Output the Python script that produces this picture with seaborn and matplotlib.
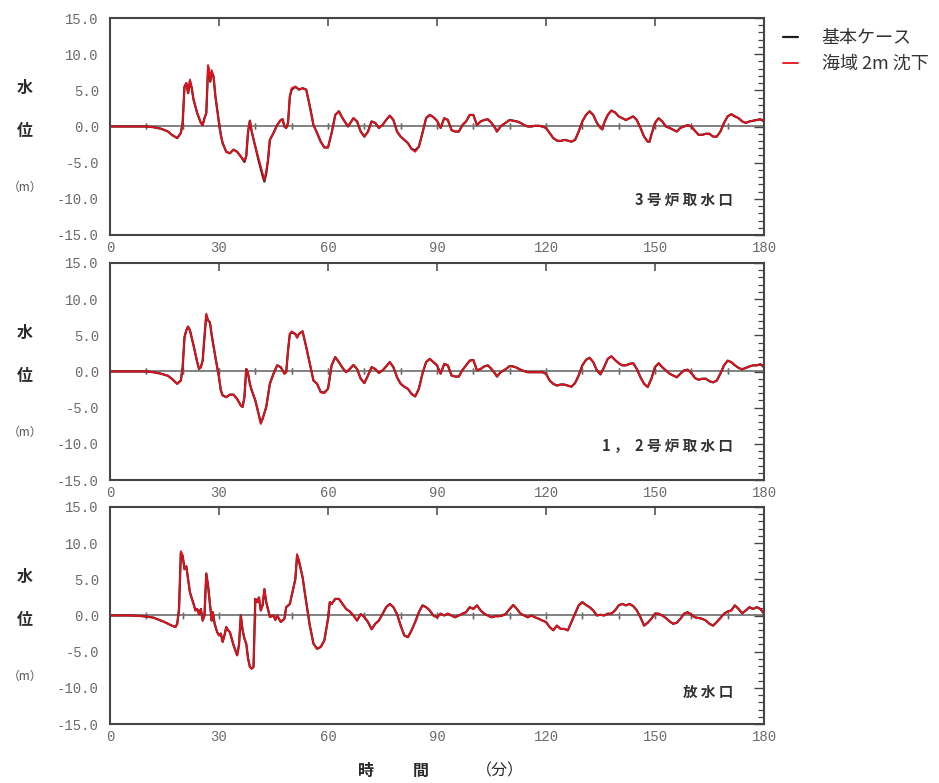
import matplotlib
matplotlib.use("Agg")
import matplotlib.pyplot as plt
from matplotlib.ticker import FixedLocator, MultipleLocator, NullFormatter
import pandas as pd
import seaborn as sns

# ---------------- data ----------------
series_labels = ["基本ケース", "海域 2m 沈下"]
panel_titles = ["3 号 炉 取 水 口", "1 ，  2 号 炉 取 水 口", "放 水 口"]
xtick_values = [0, 30, 60, 90, 120, 150, 180]
xtick_labels = ["0", "30", "60", "90", "120", "150", "180"]
ytick_values = [15, 10, 5, 0, -5, -10, -15]
ytick_labels = ["15.0", "10.0", "5.0", "0.0", "-5.0", "-10.0", "-15.0"]
zero_line_ticks = [10, 20, 30, 40, 50, 60, 70, 80, 90, 100, 110, 120,
                   130, 140, 150, 160, 170]

# Panel 1 : 3号炉取水口
t1 = ([0, 5, 10, 12, 14, 16, 17, 18.5, 19.5, 20,
       20.5, 21, 21.5, 22, 22.5, 23, 24, 25, 25.5, 26,
       26.5, 27, 27.3, 27.6, 28, 28.5, 29, 30, 30.5, 31,
       32, 33, 34, 35, 36, 37, 37.5, 38, 38.5, 39,
       40, 41, 42, 42.5, 43, 43.5, 44, 45, 46, 47,
       47.5, 48, 48.5, 49, 49.5, 50, 51, 52, 53, 54,
       55, 56, 57, 58, 59, 60, 61, 62, 63, 64,
       65.5] + list(range(67, 107)) + [106.5, 107.5] + list(range(108, 136))
      + [135.5] + list(range(136, 149)) + [148.5] + list(range(149, 181)))
p1_sub = [0, 0, 0, -0.1, -0.3, -0.7, -1.15, -1.6, -0.9, 0.5,
          5.5, 6.0, 4.6, 6.5, 5.3, 3.7, 1.85, 0.5, 0.2, 1.15,
          1.85, 8.5, 7.6, 6.2, 7.8, 6.9, 4.2, 0.5, -1.15, -2.3,
          -3.5, -3.7, -3.2, -3.5, -4.15, -4.75, -4.1, -0.7, 0.8, -0.7,
          -2.8, -4.6, -6.5, -7.4, -6.2, -4.6, -1.85, -0.9, 0.2, 0.9,
          1.0, 0.0, -0.2, 0.5, 4.15, 5.3, 5.5, 5.1, 5.3, 5.1,
          2.8, 0.2, -0.9, -2.1, -2.9, -2.9, -0.9, 1.6, 2.1, 1.15,
          0.0, 1.15, 0.7, -0.7, -1.4, -0.7, 0.7, 0.5, -0.2, 0.2,
          0.9, 1.5, 0.9, -0.7, -1.4, -1.85, -2.3, -3.1, -3.5, -2.8,
          -0.9, 1.15, 1.6, 1.3, 0.8, -0.2, 1.15, 0.9, -0.5, -0.7,
          -0.7, 0.2, 0.7, 1.6, 1.6, 0.2, 0.7, 0.9, 1.0, 0.5,
          -0.2, -0.7, 0.0, 0.2, 0.55, 0.9, 0.8, 0.7, 0.5, 0.2,
          0.0, 0.0, 0.1, 0.1, 0.0, -0.2, -0.9, -1.6, -1.95, -2.0,
          -1.85, -1.95, -2.1, -1.85, -0.7, 0.7, 1.6, 2.1, 1.6, 0.5,
          -0.2, -0.4, 0.5, 1.6, 2.2, 1.95, 1.4, 1.15, 0.9, 1.15,
          1.4, 0.9, -0.2, -1.4, -2.1, -2.1, -1.15, 0.5, 1.15, 0.7,
          0.0, -0.2, -0.45, -0.7, -0.2, 0.0, 0.2, 0.0, -0.6, -1.15,
          -1.15, -1.0, -1.0, -1.4, -1.4, -0.7, 0.5, 1.4, 1.7, 1.4,
          1.15, 0.7, 0.5, 0.7, 0.8, 0.9, 1.0, 0.7]
# base case: coincides with the subsidence case except at these read points
p1_base_diff = {22: 6.3, 27: 8.2, 28: 7.5, 37: -4.9, 41: -4.9, 42: -6.8,
                42.5: -7.6, 43: -6.5, 50: 5.1, 84: -3.3}

# Panel 2 : 1,2号炉取水口
t2 = ([0, 5, 10, 12, 14, 16, 17, 18.5, 19.5, 20,
       20.5, 21, 21.5, 22, 23, 24, 24.5, 25, 25.5, 26,
       26.5, 27, 27.5, 28, 29, 30, 30.5, 31, 32, 33,
       34, 35, 36, 36.5, 37, 37.5, 38, 38.5, 39, 40,
       41, 41.5, 42, 43, 44, 45, 46, 47, 48, 48.5,
       49, 49.5, 50, 51, 51.5, 52, 53, 54, 55, 56]
      + list(range(57, 107)) + [106.5, 107.5] + list(range(109, 181)))
p2_sub = [0, 0, 0, -0.1, -0.3, -0.6, -1.0, -1.7, -1.25, 0.6,
          4.75, 5.7, 6.2, 5.7, 3.6, 1.3, 0.35, 0.6, 1.5, 4.75,
          8.0, 7.05, 6.8, 5.0, 2.0, -0.8, -2.6, -3.3, -3.55, -3.2,
          -3.2, -3.8, -4.7, -4.9, -3.55, 0.35, -0.3, -1.7, -2.6, -4.0,
          -6.1, -7.25, -6.55, -4.9, -1.7, -0.3, 0.85, 0.6, -0.3, -0.1,
          2.9, 5.2, 5.55, 5.2, 4.7, 5.2, 5.55, 3.4, 1.05, -1.25,
          -1.7, -2.85, -3.0, -2.4, 0.85, 2.0, 1.3, 0.5, -0.1, 0.35,
          0.9, 0.35, -1.0, -1.6, -0.55, 0.6, 0.35, -0.2, 0.15, 0.7,
          1.3, 0.6, -0.8, -1.7, -2.1, -2.4, -3.1, -3.45, -2.4, -0.3,
          1.3, 1.75, 1.3, 0.85, -0.3, 1.05, 0.85, -0.55, -0.7, -0.7,
          0.2, 0.85, 1.5, 1.6, 0.15, 0.35, 0.7, 0.85, 0.35, -0.3,
          -0.7, -0.1, 0.35, 0.75, 0.7, 0.5, 0.25, 0.05, -0.1, -0.1,
          -0.1, -0.1, -0.1, -0.3, -1.25, -1.7, -1.95, -1.8, -1.8, -1.95,
          -2.1, -1.6, -0.55, 0.85, 1.6, 1.9, 1.3, 0.15, -0.4, 0.6,
          1.75, 2.1, 1.6, 1.15, 0.85, 0.85, 1.05, 1.15, 0.35, -0.8,
          -1.7, -2.15, -1.0, 0.6, 1.15, 0.6, 0.15, -0.3, -0.55, -0.8,
          -0.3, 0.15, 0.25, -0.2, -0.9, -1.15, -1.0, -1.0, -1.35, -1.5,
          -1.25, -0.3, 0.85, 1.5, 1.3, 0.85, 0.5, 0.3, 0.5, 0.7,
          0.85, 0.85, 1.0, 0.6]
p2_base_diff = {26.5: 7.8, 41.5: -7.1, 50: 5.4, 59: -2.9}

# Panel 3 : 放水口
t3 = ([0, 5, 8, 10, 12, 15, 17, 18, 18.5, 19,
       19.5, 20, 20.5, 21, 21.5, 22, 23, 23.5, 24, 24.5,
       25, 25.5, 26, 26.5, 27, 27.5, 28, 28.3, 28.8, 29.5,
       30, 30.5, 31, 31.5, 32, 32.5, 33, 34, 35, 35.5,
       36, 36.5, 37, 37.5, 38, 38.5, 39, 39.5, 40, 40.5,
       41, 41.5, 42, 42.5, 43, 44, 45, 45.5, 46, 47,
       48, 48.5, 49.5, 50, 51, 51.5, 52, 53, 54, 55,
       56, 57, 58, 59, 60, 60.5, 61, 62, 63, 64]
      + list(range(65, 181)))
p3_sub = [0, 0, -0.05, -0.15, -0.3, -0.9, -1.4, -1.6, -1.15, 0.9,
          8.9, 8.25, 6.4, 6.8, 5.0, 3.2, 1.6, 0.7, 0.9, 0.2,
          0.9, -0.7, 0.0, 5.8, 4.1, 1.6, -0.7, 0.45, -1.15, -2.3,
          -2.75, -2.5, -3.65, -2.75, -1.6, -2.05, -2.3, -4.1, -5.5, -4.1,
          0.0, -2.05, -3.2, -3.9, -5.95, -7.1, -7.35, -7.1, 2.3, 1.85,
          2.5, 0.7, 1.4, 3.65, 1.85, -0.2, 0.0, -0.6, 0.0, -0.9,
          -0.45, 1.15, 1.6, 2.75, 5.0, 8.5, 7.55, 5.3, 1.85, -1.4,
          -3.9, -4.6, -4.35, -3.45, -0.45, 1.85, 1.6, 2.3, 2.3, 1.6,
          0.9, 0.55, 0.0, -0.7, 0.2, -0.2, -0.9, -1.9, -1.15, -0.7,
          0.2, 1.15, 1.6, 1.15, 0.2, -1.4, -2.75, -3.0, -2.05, -0.9,
          0.45, 1.4, 1.15, 0.7, 0.0, -0.25, 0.25, 0.0, 0.25, 0.0,
          -0.25, 0.0, 0.25, 0.45, 1.15, 0.9, 1.4, 0.7, 0.25, 0.0,
          -0.25, -0.1, -0.1, 0.0, 0.25, 0.9, 1.45, 0.9, 0.25, 0.0,
          -0.25, 0.0, -0.25, -0.45, -0.7, -0.9, -1.6, -2.05, -1.4, -1.85,
          -1.85, -2.05, -0.9, 0.25, 1.4, 1.85, 1.45, 1.15, 0.7, 0.0,
          0.1, 0.0, 0.25, 0.25, 0.7, 1.4, 1.6, 1.4, 1.6, 1.3,
          0.7, -0.25, -1.4, -1.0, -0.45, 0.25, 0.25, 0.0, -0.35, -0.8,
          -1.15, -1.0, -0.45, 0.25, 0.45, 0.1, -0.25, -0.35, -0.45, -0.7,
          -1.15, -1.4, -0.9, -0.35, 0.25, 0.55, 0.7, 1.4, 0.9, 0.3,
          0.7, 1.15, 0.9, 1.15, 0.9, 0.25]
p3_base_diff = {19.5: 8.7, 51.5: 8.3}


def with_diff(times, values, diff):
    return [diff.get(t, v) for t, v in zip(times, values)]


panels = [
    (t1, with_diff(t1, p1_sub, p1_base_diff), p1_sub),
    (t2, with_diff(t2, p2_sub, p2_base_diff), p2_sub),
    (t3, with_diff(t3, p3_sub, p3_base_diff), p3_sub),
]

# ---------------- styling ----------------
sns.set_theme(style="white")
plt.rcParams['font.family'] = ['Noto Sans CJK JP', 'DejaVu Sans']

W, H = 939, 783
fig = plt.figure(figsize=(W / 100, H / 100), dpi=100)
fig.patch.set_facecolor("white")

AX_L, AX_W, AX_H = 110, 654, 217
tops = [18, 263, 507]
title_y = [0.161, 0.161, 0.147]

BLACK = "#1e1e1e"
RED = "#e3111b"
SPINE = "#454545"
LABEL = "#6a6a6a"

legend_handles = None
for i, ((t, base, sub), top) in enumerate(zip(panels, tops)):
    ax = fig.add_axes([AX_L / W, 1 - (top + AX_H) / H, AX_W / W, AX_H / H])
    ax.set_facecolor("white")

    # zero line as a secondary axis with 10-minute ticks
    sec = ax.secondary_xaxis(0.5)
    sec.set_xticks(zero_line_ticks)
    sec.tick_params(axis="x", which="both", direction="inout", length=5,
                    width=1.0, color="#666666", labeltop=False, labelbottom=False,
                    top=True, bottom=True)
    for s in sec.spines.values():
        s.set_color("#777777")
        s.set_linewidth(1.3)

    df = pd.DataFrame({"time": t, "base": base, "sub": sub})
    sns.lineplot(data=df, x="time", y="base", ax=ax, color=BLACK, lw=1.6,
                 estimator=None, sort=False, label=series_labels[0], legend=False)
    sns.lineplot(data=df, x="time", y="sub", ax=ax, color=RED, lw=1.3,
                 estimator=None, sort=False, label=series_labels[1], legend=False)
    if ax.get_legend() is not None:
        ax.get_legend().remove()
    if i == 0:
        legend_handles = ax.get_lines()[-2:]

    ax.set_xlim(0, 180)
    ax.set_ylim(-15, 15)
    ax.set_xlabel("")
    ax.set_ylabel("")

    ax.xaxis.set_major_locator(FixedLocator(xtick_values))
    ax.set_xticklabels(xtick_labels, fontfamily="Liberation Mono", fontsize=10,
                       color=LABEL)
    ax.yaxis.set_major_locator(FixedLocator(ytick_values))
    ax.set_yticklabels(ytick_labels, fontfamily="Liberation Mono", fontsize=10,
                       color=LABEL)
    ax.yaxis.set_minor_locator(MultipleLocator(1))
    ax.yaxis.set_minor_formatter(NullFormatter())

    ax.tick_params(axis="both", which="both", direction="in", top=True,
                   right=True, color=SPINE)
    ax.tick_params(axis="x", which="major", length=6, width=1.1, pad=4)
    ax.tick_params(axis="x", which="minor", top=False, bottom=False)
    ax.tick_params(axis="y", which="major", length=7, width=1.0, pad=8)
    ax.tick_params(axis="y", which="minor", length=4.5, width=0.9)
    for s in ax.spines.values():
        s.set_color(SPINE)
        s.set_linewidth(1.5)

    # vertical axis label
    ax.text(-0.13, 0.677, "水", transform=ax.transAxes, ha="center",
            va="center", fontsize=11.5, fontweight="bold", color="#2a2a2a")
    ax.text(-0.13, 0.479, "位", transform=ax.transAxes, ha="center",
            va="center", fontsize=11.5, fontweight="bold", color="#2a2a2a")
    ax.text(-0.13, 0.221, "（m）", transform=ax.transAxes, ha="center",
            va="center", fontsize=8.5, color="#555555")

    # location label
    ax.text(0.953, title_y[i], panel_titles[i], transform=ax.transAxes,
            ha="right", va="center", fontsize=10.5, fontweight="bold",
            color="#333333")

# x-axis title
fig.text(366 / W, 1 - 771 / H, "時", ha="center", va="center", fontsize=11.5,
         fontweight="bold", color="#2a2a2a")
fig.text(421 / W, 1 - 771 / H, "間", ha="center", va="center", fontsize=11.5,
         fontweight="bold", color="#2a2a2a")
fig.text(500 / W, 1 - 771 / H, "（分）", ha="center", va="center", fontsize=11.5,
         color="#2a2a2a")

# legend
fig.legend(legend_handles, series_labels, loc="upper left",
           bbox_to_anchor=(783 / W, 1 - 29 / H), frameon=False,
           handlelength=0.85, handletextpad=1.3, labelspacing=0.45,
           fontsize=13, labelcolor="#333333", borderaxespad=0, borderpad=0)

fig.savefig("out.png", dpi=100, facecolor="white")
